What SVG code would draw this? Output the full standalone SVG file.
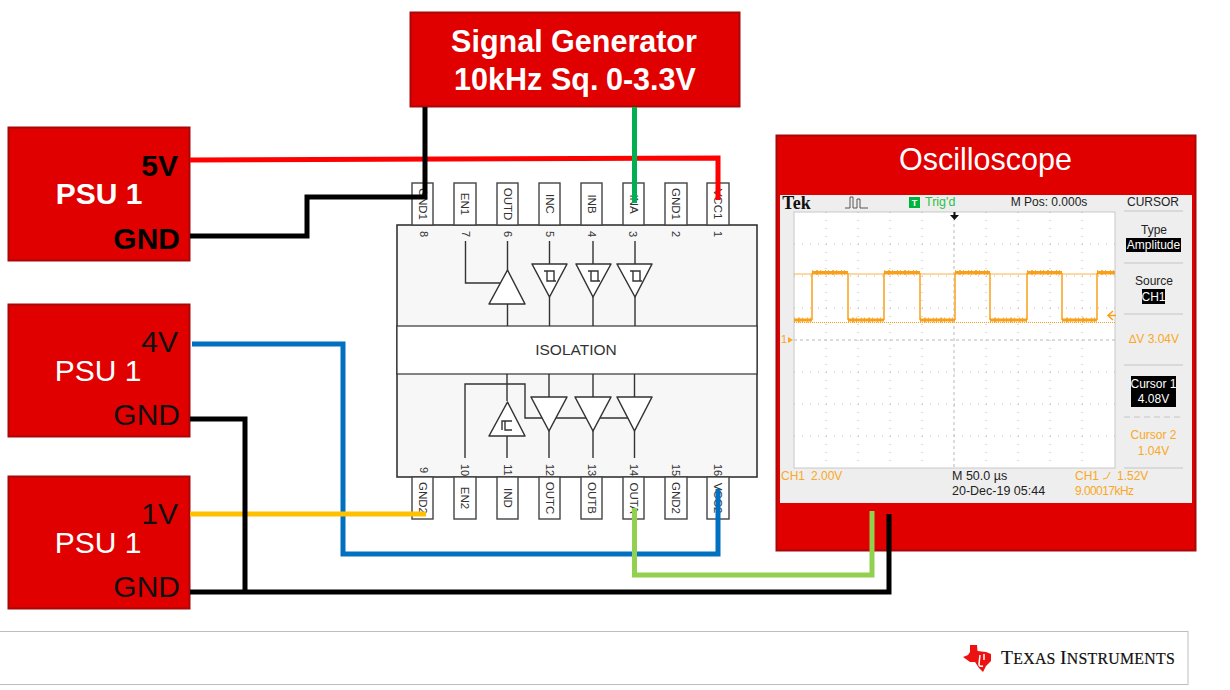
<svg xmlns="http://www.w3.org/2000/svg" width="1230" height="690" viewBox="0 0 1230 690">
<style>
  text { font-family: "Liberation Sans", Arial, sans-serif; }
  .box { fill: #e00000; stroke: #a80808; stroke-width: 2; }
  .title { fill: #fff; font-weight: bold; font-size: 30.500px; text-anchor: middle; }
  .psu { fill: #fff; font-size: 30px; text-anchor: middle; }
  .psub { fill: #fff; font-weight: bold; font-size: 30px; text-anchor: middle; }
  .term { fill: #111; font-size: 30px; text-anchor: end; }
  .termb { fill: #000; font-weight: bold; font-size: 30px; text-anchor: end; }
  .pin { fill: #fff; stroke: #444; stroke-width: 1.4; }
  .pinlabel { font-size: 11.500px; fill: #333; text-anchor: middle; }
  .pinno { font-size: 11px; fill: #333; text-anchor: middle; }
  .sym { fill: #fff; stroke: #333; stroke-width: 1.5; stroke-linejoin: round; }
  .lead { fill: none; stroke: #333; stroke-width: 1.4; }
  .wire { fill: none; stroke-width: 5; stroke-linejoin: miter; }
  .grid { stroke: #b8b8b8; stroke-width: 1; stroke-dasharray: 1 7; fill: none; }
  .tick { stroke: #b8b8b8; stroke-width: 1; stroke-dasharray: 3 3; fill: none; }
  .trace { fill: none; stroke: #fbb040; stroke-width: 1.8; }
  .level { fill: none; stroke: #f9a01b; stroke-width: 3; }
  .noise { fill: none; stroke: #f9a01b; stroke-width: 5; stroke-dasharray: 1 3 2 2 1 4 1 2; opacity: .8; }
  .sc { font-size: 12px; fill: #222; text-anchor: middle; }
  .sl { font-size: 12.500px; fill: #222; }
  .so { font-size: 12px; fill: #f9a825; }
  .soc { font-size: 12px; fill: #f9a825; text-anchor: middle; }
  .sw { font-size: 12px; fill: #fff; text-anchor: middle; }
  .sep { stroke: #c4c4c4; stroke-width: 1; }
</style>

<g id="signal-generator">
  <rect class="box" x="410.500" y="12.500" width="329" height="94"/>
  <text class="title" x="574" y="52">Signal Generator</text>
  <text class="title" y="90" style="text-anchor:start"><tspan x="454">10kHz</tspan> <tspan x="551">Sq.</tspan> <tspan x="606">0-3.3V</tspan></text>
</g>

<g id="psu-a">
  <rect class="box" x="8.500" y="127.500" width="181" height="133"/>
  <text class="psub" x="99" y="204">PSU 1</text>
  <text class="termb" x="178" y="176">5V</text>
  <text class="termb" x="180" y="249">GND</text>
</g>
<g id="psu-b">
  <rect class="box" x="8.500" y="304.500" width="181" height="132"/>
  <text class="psu" x="98" y="381">PSU 1</text>
  <text class="term" x="178" y="352">4V</text>
  <text class="term" x="180" y="425">GND</text>
</g>
<g id="psu-c">
  <rect class="box" x="8.500" y="476.500" width="181" height="132"/>
  <text class="psu" x="98" y="553">PSU 1</text>
  <text class="term" x="178" y="524">1V</text>
  <text class="term" x="180" y="597">GND</text>
</g>

<g id="isolator">
  <rect x="397" y="225" width="360" height="252" fill="#f7f7f7" stroke="#333" stroke-width="1.6"/>
  <rect x="397" y="326" width="360" height="48" fill="#fff" stroke="#333" stroke-width="1.2"/>
  <text x="576" y="355" font-size="15.500" fill="#333" text-anchor="middle">ISOLATION</text>

  <!-- upper pin row -->
  <g>
    <rect class="pin" x="412" y="183" width="21" height="42"/>
    <rect class="pin" x="454" y="183" width="22" height="42"/>
    <rect class="pin" x="497" y="183" width="21" height="42"/>
    <rect class="pin" x="539" y="183" width="21" height="42"/>
    <rect class="pin" x="581" y="183" width="21" height="42"/>
    <rect class="pin" x="623" y="183" width="21" height="42"/>
    <rect class="pin" x="665" y="183" width="22" height="42"/>
    <rect class="pin" x="707" y="183" width="22" height="42"/>
    <text class="pinlabel" transform="translate(419,204) rotate(90)">GND1</text>
    <text class="pinlabel" transform="translate(461,204) rotate(90)">EN1</text>
    <text class="pinlabel" transform="translate(503.500,204) rotate(90)">OUTD</text>
    <text class="pinlabel" transform="translate(546,204) rotate(90)">INC</text>
    <text class="pinlabel" transform="translate(588,204) rotate(90)">INB</text>
    <text class="pinlabel" transform="translate(630,204) rotate(90)">INA</text>
    <text class="pinlabel" transform="translate(672,204) rotate(90)">GND1</text>
    <text class="pinlabel" transform="translate(714,204) rotate(90)">VCC1</text>
    <text class="pinno" transform="translate(420,234) rotate(90)">8</text>
    <text class="pinno" transform="translate(462,234) rotate(90)">7</text>
    <text class="pinno" transform="translate(503.500,234) rotate(90)">6</text>
    <text class="pinno" transform="translate(546,234) rotate(90)">5</text>
    <text class="pinno" transform="translate(588,234) rotate(90)">4</text>
    <text class="pinno" transform="translate(629,234) rotate(90)">3</text>
    <text class="pinno" transform="translate(672,234) rotate(90)">2</text>
    <text class="pinno" transform="translate(714,234) rotate(90)">1</text>
  </g>

  <!-- lower pin row -->
  <g>
    <rect class="pin" x="412" y="477" width="21" height="42"/>
    <rect class="pin" x="454" y="477" width="22" height="42"/>
    <rect class="pin" x="497" y="477" width="21" height="42"/>
    <rect class="pin" x="539" y="477" width="21" height="42"/>
    <rect class="pin" x="581" y="477" width="21" height="42"/>
    <rect class="pin" x="623" y="477" width="21" height="42"/>
    <rect class="pin" x="665" y="477" width="22" height="42"/>
    <rect class="pin" x="707" y="477" width="22" height="42"/>
    <text class="pinlabel" transform="translate(419,498) rotate(90)">GND2</text>
    <text class="pinlabel" transform="translate(461,498) rotate(90)">EN2</text>
    <text class="pinlabel" transform="translate(503.500,498) rotate(90)">IND</text>
    <text class="pinlabel" transform="translate(546,498) rotate(90)">OUTC</text>
    <text class="pinlabel" transform="translate(588,498) rotate(90)">OUTB</text>
    <text class="pinlabel" transform="translate(630,498) rotate(90)">OUTA</text>
    <text class="pinlabel" transform="translate(672,498) rotate(90)">GND2</text>
    <text class="pinlabel" transform="translate(714,498) rotate(90)">VCC2</text>
    <text class="pinno" transform="translate(420,470) rotate(90)">9</text>
    <text class="pinno" transform="translate(461,470) rotate(90)">10</text>
    <text class="pinno" transform="translate(503.500,470) rotate(90)">11</text>
    <text class="pinno" transform="translate(546,470) rotate(90)">12</text>
    <text class="pinno" transform="translate(588,470) rotate(90)">13</text>
    <text class="pinno" transform="translate(630,470) rotate(90)">14</text>
    <text class="pinno" transform="translate(672,470) rotate(90)">15</text>
    <text class="pinno" transform="translate(714,470) rotate(90)">16</text>
  </g>

  <!-- upper channel drivers -->
  <path class="lead" d="M465.500 241V283H500M507.500 241V270M507.500 304V326M549.500 241V264M549.500 297V326M593 241V264M593 297V326M635 241V264M635 297V326"/>
  <path class="sym" d="M489 304L507.500 270L525 304Z"/>
  <path class="sym" d="M532 264H567L549.500 297Z"/>
  <path class="sym" d="M576 264H611L593 297Z"/>
  <path class="sym" d="M617 264H652L635 297Z"/>
  <path class="lead" d="M544 271H554V281M547 271V281H556M588 271H598V281M591 271V281H600M630 271H640V281M633 271V281H642"/>

  <!-- lower channel drivers -->
  <path class="lead" d="M465 458V384H525V418H630M507 374V401M507 436V458M549 374V397M549 431V458M593 374V397M593 431V458M634.500 374V397M634.500 431V458"/>
  <path class="sym" d="M489 436L507.500 402L525 436Z"/>
  <path class="sym" d="M531 397H567L549 431Z"/>
  <path class="sym" d="M575 397H611L593 431Z"/>
  <path class="sym" d="M617 397H652L634.500 431Z"/>
  <path class="lead" d="M512 421H502V430M505 421V430H512"/>
</g>

<g id="oscilloscope">
  <rect class="box" x="776.500" y="135.500" width="419" height="415"/>
  <text x="985.500" y="170" font-size="30.500" fill="#fff" text-anchor="middle">Oscilloscope</text>
  <rect x="780" y="195" width="412" height="308" fill="#eeeeee"/>
  <rect x="794" y="212" width="321" height="256" fill="#fff" stroke="#c8c8c8" stroke-width="1"/>

  <!-- graticule -->
  <path class="grid" d="M826 212V468M858 212V468M890 212V468M922 212V468M986 212V468M1018 212V468M1050 212V468M1082 212V468"/>
  <path class="grid" d="M794 244H1115M794 276H1115M794 308H1115M794 372H1115M794 404H1115M794 436H1115"/>
  <path class="tick" d="M954 212V468M794 340H1115"/>

  <!-- cursors and captured waveform -->
  <path d="M794 274H1115" stroke="#fbb040" stroke-width="1" fill="none"/>
  <path d="M794 322.500H1115" stroke="#f9a01b" stroke-width="1" stroke-dasharray="1 1" fill="none"/>
  <path class="trace" d="M812 320V273M848 273V320M884 320V273M920 273V320M955 320V273M990 273V320M1027 320V273M1062 273V320M1097 320V273"/>
  <path class="level" d="M794 320H812M812 272.500H848M848 320H884M884 272.500H920M920 320H955M955 272.500H990M990 320H1027M1027 272.500H1062M1062 320H1097M1097 272.500H1115"/>
  <path class="noise" d="M794 320H812M812 272.500H848M848 320H884M884 272.500H920M920 320H955M955 272.500H990M990 320H1027M1027 272.500H1062M1062 320H1097M1097 272.500H1115"/>
  <path d="M1116 315.500h-7M1113 311l-5 4.500 5 4.500" fill="none" stroke="#f9a01b" stroke-width="1.600"/>
  <path d="M950 215h9l-4.500 5zM953.500 212h2v4h-2z" fill="#111"/>

  <!-- header strip -->
  <text x="796.500" y="209" font-size="18" font-weight="bold" fill="#111" text-anchor="middle" style="font-family:'Liberation Serif',serif">Tek</text>
  <path d="M845 208H850V197H853V208H857V199H860V208H868" fill="none" stroke="#555" stroke-width="1"/>
  <rect x="909" y="197" width="11" height="11" fill="#00b33c"/>
  <text x="914.500" y="206" font-size="9" font-weight="bold" fill="#fff" text-anchor="middle">T</text>
  <text x="925" y="206" font-size="12.500" fill="#2fbf4a">Trig'd</text>
  <text class="sc" x="1049" y="206">M Pos: 0.000s</text>
  <text class="sc" x="1153" y="206">CURSOR</text>

  <!-- side menu -->
  <path class="sep" d="M1124 211H1183M1124 263H1183M1124 314H1183"/>
  <text class="sc" x="1154" y="234">Type</text>
  <rect x="1126" y="238" width="55" height="14" fill="#000"/>
  <text class="sw" x="1153.500" y="249">Amplitude</text>
  <text class="sc" x="1154" y="285">Source</text>
  <rect x="1142" y="289" width="23" height="15" fill="#000"/>
  <text class="sw" x="1153.500" y="301">CH1</text>
  <text class="soc" x="1154" y="343">∆V 3.04V</text>
  <path class="sep" d="M1124 365H1183"/>
  <rect x="1131" y="376" width="45" height="31" fill="#000"/>
  <text class="sw" x="1153.500" y="388">Cursor 1</text>
  <text class="sw" x="1153.500" y="403">4.08V</text>
  <path class="sep" stroke-dasharray="6 4" d="M1124 417H1183"/>
  <text class="soc" x="1153.500" y="439">Cursor 2</text>
  <text class="soc" x="1153.500" y="455">1.04V</text>
  <path class="sep" d="M1124 468H1183"/>

  <!-- status lines -->
  <text class="so" x="781" y="480">CH1</text>
  <text class="so" x="811" y="480">2.00V</text>
  <text class="sl" x="952" y="480">M 50.0 µs</text>
  <text class="sl" x="952" y="495">20-Dec-19 05:44</text>
  <text class="so" x="1075" y="480">CH1</text>
  <path d="M1103 479l4-1 3-6" fill="none" stroke="#f9a825" stroke-width="1"/>
  <text class="so" x="1117" y="480">1.52V</text>
  <text class="so" x="1075" y="495" textLength="59">9.00017kHz</text>
  <text x="781" y="343" font-size="11" fill="#f9a825">1</text>
  <path d="M788 337l5 3-5 3z" fill="#f9a825"/>
</g>

<g id="connectors">
  <path class="wire" stroke="#ff0000" d="M190 160L718 158V200"/>
  <path class="wire" stroke="#000" d="M190 236H307V197H425V107"/>
  <path class="wire" stroke="#00b050" d="M634.500 107V203"/>
  <path class="wire" stroke="#0070c0" d="M192 344H343V554H718V489"/>
  <path class="wire" stroke="#ffc000" d="M190 514H426"/>
  <path class="wire" stroke="#92d050" d="M634.500 508V575H872V511"/>
  <path class="wire" stroke="#000" d="M190 419H245V592"/>
  <path class="wire" stroke="#000" d="M190 592H889V514"/>
</g>

<g id="footer">
  <rect x="-2" y="631.500" width="1190" height="53" fill="#fff" stroke="#bdbdbd" stroke-width="1"/>
  <path d="M970 645H977L977.500 651L986 652L991 654L991 661L986 666L983 672L979 668L975 662L970 662L963 657L968 655L970 652Z" fill="#ee1111"/>
  <path d="M980 655L979 664Q979 667 983 666M984 654V660" stroke="#fff" stroke-width="1.500" fill="none"/>
  <text x="1001" y="664" font-size="15.800" fill="#111" stroke="#111" stroke-width=".2" style="font-family:'Liberation Serif',serif;letter-spacing:.3px"><tspan font-size="19.500">T</tspan>EXAS <tspan font-size="19.500">I</tspan>NSTRUMENTS</text>
</g>
</svg>
